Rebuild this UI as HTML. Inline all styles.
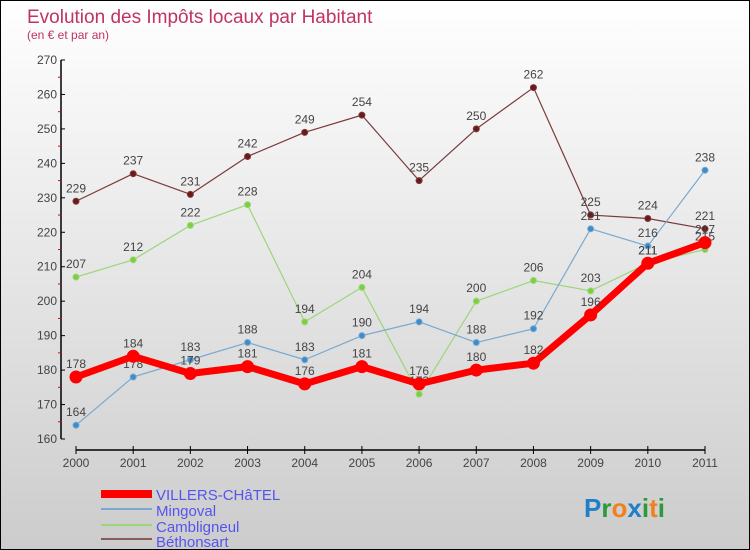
<!DOCTYPE html>
<html><head><meta charset="utf-8"><style>
body{margin:0}
#c{width:748px;height:548px;border:1px solid #000;background:linear-gradient(#fff,#ccc);position:relative;font-family:"Liberation Sans",sans-serif}
</style></head><body>
<div id="c">
<svg id="s" width="748" height="548" style="position:absolute;left:0;top:0" font-family="Liberation Sans, sans-serif">
<text x="26" y="22" font-size="19" fill="#c0345f">Evolution des Impôts locaux par Habitant</text>
<text x="26" y="38" font-size="12" fill="#c0345f">(en € et par an)</text>
<g id="axes"></g><g id="series"></g>
<g font-size="15" fill="#5555ee">
<rect x="100" y="489" width="51" height="8" fill="#f00"/>
<text x="155" y="499">VILLERS-CHâTEL</text>
<rect x="100" y="507" width="51" height="2" fill="#79a9d0"/>
<text x="155" y="515">Mingoval</text>
<rect x="100" y="523" width="51" height="2" fill="#9bd67a"/>
<text x="155" y="531">Cambligneul</text>
<rect x="100" y="537" width="51" height="2" fill="#8a5a5a"/>
<text x="155" y="546">Béthonsart</text>
</g>
<text x="583" y="516" font-size="26" font-weight="bold"><tspan fill="#1f7fc8">P</tspan><tspan fill="#2a9a3a">r</tspan><tspan fill="#f08020">o</tspan><tspan fill="#1f7fc8">x</tspan><tspan fill="#2a9a3a">i</tspan><tspan fill="#f08020">t</tspan><tspan fill="#2a9a3a">i</tspan></text>
</svg></div>
<script>
const years=[2000,2001,2002,2003,2004,2005,2006,2007,2008,2009,2010,2011];
const yTicks=[160,170,180,190,200,210,220,230,240,250,260,270];
const villers=[178,184,179,181,176,181,176,180,182,196,211,217];
const mingoval=[164,178,183,188,183,190,194,188,192,221,216,238];
const cambligneul=[207,212,222,228,194,204,173,200,206,203,211,215];
const bethonsart=[229,237,231,242,249,254,235,250,262,225,224,221];
const NS="http://www.w3.org/2000/svg";
function X(i){return 75+i*(629/11);}
function Y(v){return 438-(v-160)*(379/110);}
function mk(t,a,p){const e=document.createElementNS(NS,t);for(const k in a)e.setAttribute(k,a[k]);p.appendChild(e);return e;}
const ax=document.getElementById('axes');
let l=mk('line',{x1:60,y1:Y(270),x2:60,y2:Y(160),stroke:'#000','stroke-width':1.5},ax);


l=mk('line',{x1:X(0),y1:449,x2:X(11),y2:449,stroke:'#000','stroke-width':1.5},ax);


yTicks.forEach((v,i)=>{
 mk('line',{x1:60,y1:Y(v),x2:64,y2:Y(v),stroke:'#000'},ax);
 if(i<yTicks.length-1) mk('line',{x1:57,y1:Y(v+5),x2:60,y2:Y(v+5),stroke:'#e00'},ax);
 const t=mk('text',{x:56,y:Y(v)+4,'text-anchor':'end','font-size':12,fill:'#444'},ax);t.textContent=v;
 
 
});
years.forEach((y,i)=>{
 mk('line',{x1:X(i),y1:445,x2:X(i),y2:453,stroke:'#000'},ax);
 const t=mk('text',{x:X(i),y:466,'text-anchor':'middle','font-size':12,fill:'#444'},ax);t.textContent=y;
 
 
});
const sg=document.getElementById('series');
function draw(data,color,w,r,dot,name){
 const g=mk('g',{},sg);
 
 
 const pl=mk('polyline',{points:data.map((v,i)=>X(i)+','+Y(v)).join(' '),fill:'none',stroke:color,'stroke-width':w,'stroke-linejoin':'round'},g);
 
 
 data.forEach((v,i)=>{
  const c=mk('circle',{cx:X(i),cy:Y(v),r:r,fill:dot,stroke:color,'stroke-width':1},g);
  
  
  const t=mk('text',{x:X(i),y:Y(v)-9,'text-anchor':'middle','font-size':12,fill:'#444'},g);t.textContent=v;
  
  
 });
}
draw(bethonsart,'#7a3a3a',1.2,3,'#6b1a1a','bethonsart');
draw(cambligneul,'#9bd67a',1.2,3,'#7cd040','cambligneul');
draw(mingoval,'#79a9d0',1.2,3,'#3c8ccc','mingoval');
draw(villers,'#f00',7,6,'#f00','villers');
</script></body></html>
